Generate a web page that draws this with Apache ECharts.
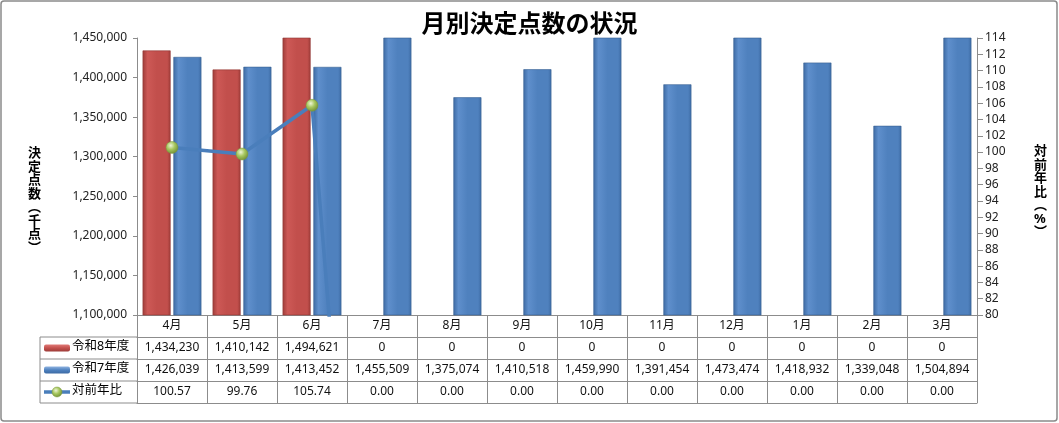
<!DOCTYPE html>
<html>
<head>
<meta charset="utf-8">
<script src="https://cdn.jsdelivr.net/npm/echarts@6/dist/echarts.min.js"></script>
<style>
  html, body { margin: 0; padding: 0; background: #fff; }
  #main { width: 1059px; height: 423px; }
</style>
</head>
<body>
<div id="main"></div>
<script>
// data
var categories = ['4月', '5月', '6月', '7月', '8月', '9月', '10月', '11月', '12月', '1月', '2月', '3月'];
var reiwa8 = [1434230, 1410142, 1494621, 0, 0, 0, 0, 0, 0, 0, 0, 0];
var reiwa7 = [1426039, 1413599, 1413452, 1455509, 1375074, 1410518, 1459990, 1391454, 1473474, 1418932, 1339048, 1504894];
var ratio = [100.57, 99.76, 105.74, 0, 0, 0, 0, 0, 0, 0, 0, 0];
var seriesNames = ['令和8年度', '令和7年度', '対前年比'];

var FONT = "'Noto Sans', 'Noto Sans CJK JP', sans-serif";
var GRID_LINE = '#8c8c8c';
var ROW_H = 22;

function fmtInt(v) {
  return Number(v).toLocaleString('en-US');
}
function fmtRatio(v) {
  return Number(v).toFixed(2);
}

function barGradient(edge, mid, light) {
  return {
    type: 'linear', x: 0, y: 0, x2: 1, y2: 0,
    colorStops: [
      { offset: 0, color: edge },
      { offset: 0.18, color: light },
      { offset: 0.5, color: mid },
      { offset: 0.88, color: mid },
      { offset: 1, color: edge }
    ]
  };
}
var redFill = barGradient('#9e3c39', '#c24f4c', '#cd5956');
var blueFill = barGradient('#3d6ba4', '#4f81be', '#5f8fcc');
var ballFill = {
  type: 'radial', x: 0.4, y: 0.35, r: 0.7,
  colorStops: [
    { offset: 0, color: '#eef5d8' },
    { offset: 0.45, color: '#a8c860' },
    { offset: 1, color: '#6d8a30' }
  ]
};

// one x axis per table row, stacked under the plot
function tableAxis(offset, values, fmt) {
  return {
    type: 'category',
    data: categories,
    position: 'bottom',
    offset: offset,
    axisLine: { show: true, lineStyle: { color: GRID_LINE, width: 1 } },
    axisTick: { show: true, interval: 0, length: ROW_H, lineStyle: { color: GRID_LINE, width: 1 } },
    axisLabel: {
      interval: 0, margin: 5, fontSize: 12, color: '#111', fontFamily: FONT,
      formatter: function (v, i) { return values ? fmt(values[i]) : v; }
    },
    splitLine: { show: false }
  };
}

var chart = echarts.init(document.getElementById('main'));

var option = {
  backgroundColor: '#fff',
  animation: false,
  title: {
    text: '月別決定点数の状況',
    left: 'center',
    top: 8,
    textStyle: { fontSize: 24, fontWeight: 'bold', color: '#000', fontFamily: FONT }
  },
  grid: { left: 137, right: 82, top: 38, bottom: 108 },
  xAxis: [
    tableAxis(0, null, null),
    tableAxis(ROW_H, reiwa8, fmtInt),
    tableAxis(ROW_H * 2, reiwa7, fmtInt),
    tableAxis(ROW_H * 3, ratio, fmtRatio),
    {
      type: 'category', data: categories, position: 'bottom', offset: ROW_H * 4,
      axisLine: { show: true, lineStyle: { color: GRID_LINE, width: 1 } },
      axisTick: { show: false }, axisLabel: { show: false }
    }
  ],
  yAxis: [
    {
      type: 'value',
      min: 1100000, max: 1450000, interval: 50000,
      axisLine: { show: true, lineStyle: { color: GRID_LINE } },
      axisTick: { show: true, length: 4, lineStyle: { color: GRID_LINE } },
      axisLabel: { fontSize: 12, color: '#222', margin: 10, fontFamily: FONT, formatter: fmtInt },
      splitLine: { show: false }
    },
    {
      type: 'value',
      position: 'right',
      min: 80, max: 114, interval: 2,
      axisLine: { show: true, lineStyle: { color: GRID_LINE } },
      axisTick: { show: true, length: 6, lineStyle: { color: GRID_LINE } },
      axisLabel: { fontSize: 12, color: '#222', margin: 8, fontFamily: FONT },
      splitLine: { show: false }
    }
  ],
  series: [
    {
      name: seriesNames[0],
      type: 'bar',
      data: reiwa8,
      barWidth: 28,
      barGap: '10%',
      clip: true,
      itemStyle: { color: redFill, borderColor: '#8e3533', borderWidth: 0.6 }
    },
    {
      name: seriesNames[1],
      type: 'bar',
      data: reiwa7,
      barWidth: 28,
      clip: true,
      itemStyle: { color: blueFill, borderColor: '#375f92', borderWidth: 0.6 }
    },
    {
      name: seriesNames[2],
      type: 'line',
      yAxisIndex: 1,
      data: ratio,
      clip: true,
      symbol: 'circle',
      symbolSize: 12,
      z: 5,
      lineStyle: { color: '#4a7ebb', width: 3.5 },
      itemStyle: { color: ballFill, borderColor: '#7d9a3e', borderWidth: 0.5 }
    }
  ],
  graphic: [
    // outer frame
    { type: 'rect', shape: { x: 1, y: 1, width: 1056, height: 420, r: 3 },
      style: { fill: 'none', stroke: '#8a8a8a', lineWidth: 1.5 }, silent: true },
    // left axis name
    { type: 'text', left: 28, top: 147,
      style: { text: '決\n定\n点\n数\n︵\n千\n点\n︶', fontSize: 13, fontWeight: 'bold', lineHeight: 13.5,
               fill: '#000', align: 'center', fontFamily: FONT } },
    // right axis name
    { type: 'text', left: 1034, top: 145,
      style: { text: '対\n前\n年\n比\n︵\n%\n︶', fontSize: 13, fontWeight: 'bold', lineHeight: 13.5,
               fill: '#000', align: 'center', fontFamily: FONT } },
    // legend column of the data table
    { type: 'line', shape: { x1: 40, y1: 337, x2: 137, y2: 337 }, style: { stroke: GRID_LINE, lineWidth: 1 } },
    { type: 'line', shape: { x1: 40, y1: 359, x2: 137, y2: 359 }, style: { stroke: GRID_LINE, lineWidth: 1 } },
    { type: 'line', shape: { x1: 40, y1: 381, x2: 137, y2: 381 }, style: { stroke: GRID_LINE, lineWidth: 1 } },
    { type: 'line', shape: { x1: 40, y1: 403, x2: 137, y2: 403 }, style: { stroke: GRID_LINE, lineWidth: 1 } },
    { type: 'line', shape: { x1: 40, y1: 337, x2: 40, y2: 403 }, style: { stroke: GRID_LINE, lineWidth: 1 } },
    { type: 'rect', shape: { x: 44, y: 344.5, width: 26, height: 7, r: 2 },
      style: { fill: { type: 'linear', x: 0, y: 0, x2: 0, y2: 1,
        colorStops: [{ offset: 0, color: '#e07a77' }, { offset: 0.5, color: '#c4514e' }, { offset: 1, color: '#9c3b38' }] } } },
    { type: 'text', left: 72, top: 340, style: { text: seriesNames[0], fontSize: 12.5, fill: '#000', fontFamily: FONT } },
    { type: 'rect', shape: { x: 44, y: 366.5, width: 26, height: 7, r: 2 },
      style: { fill: { type: 'linear', x: 0, y: 0, x2: 0, y2: 1,
        colorStops: [{ offset: 0, color: '#8fb3e0' }, { offset: 0.5, color: '#4f82c0' }, { offset: 1, color: '#3c6aa3' }] } } },
    { type: 'text', left: 72, top: 362, style: { text: seriesNames[1], fontSize: 12.5, fill: '#000', fontFamily: FONT } },
    { type: 'line', shape: { x1: 44, y1: 392, x2: 70, y2: 392 }, style: { stroke: '#4a7ebb', lineWidth: 3.5 } },
    { type: 'circle', shape: { cx: 57, cy: 392, r: 5 }, style: { fill: ballFill, stroke: '#7d9a3e', lineWidth: 0.5 } },
    { type: 'text', left: 72, top: 384, style: { text: seriesNames[2], fontSize: 12.5, fill: '#000', fontFamily: FONT } }
  ]
};

chart.setOption(option);
</script>
</body>
</html>
